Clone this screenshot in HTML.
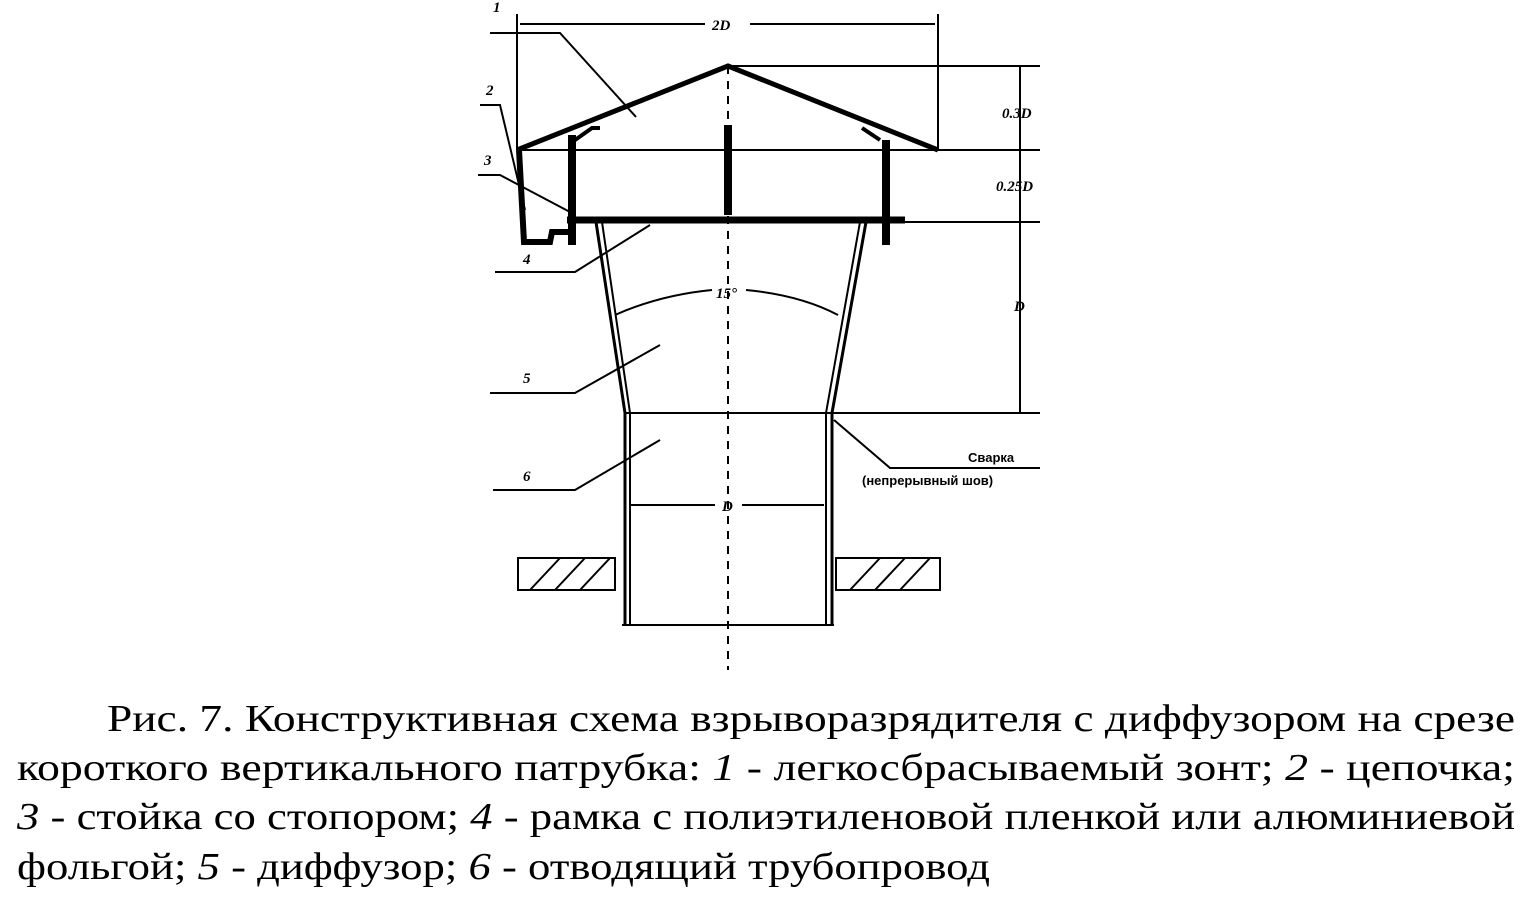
<!DOCTYPE html><html><head><meta charset="utf-8"><style>body{margin:0;background:#fff}svg{display:block}text{font-family:"Liberation Serif",serif}.s{font-family:"Liberation Sans",sans-serif}</style></head><body>
<svg width="1530" height="900" viewBox="0 0 1530 900" xmlns="http://www.w3.org/2000/svg">
<g stroke="#000" fill="none" stroke-width="2">
<line x1="517" y1="14" x2="517" y2="150"/><line x1="938" y1="14" x2="938" y2="150"/>
<line x1="520" y1="24" x2="705" y2="24"/><line x1="750" y1="24" x2="935" y2="24"/>
<line x1="728" y1="66" x2="1040" y2="66"/><line x1="517" y1="150" x2="1040" y2="150"/>
<line x1="880" y1="222" x2="1040" y2="222"/><line x1="625" y1="413" x2="1040" y2="413"/>
<line x1="1020" y1="66" x2="1020" y2="413"/>
<polyline points="490,33 560,33 636,117"/>
<polyline points="480,105 500,105 525,210"/>
<polyline points="478,175 500,175 570,212"/>
<polyline points="495,272 575,272 650,225"/>
<polyline points="490,393 575,393 660,345"/>
<polyline points="493,490 575,490 660,440"/>
<polyline points="834,420 890,468 1040,468"/>
<path d="M615,315 Q660,295 712,290 M746,290 Q800,295 838,315"/>
<line x1="630" y1="505" x2="715" y2="505"/><line x1="742" y1="505" x2="824" y2="505"/>
<line x1="728" y1="66" x2="728" y2="670" stroke-dasharray="8,7"/>
<polyline points="596,222 625,413 625,625" stroke-width="3"/><polyline points="602,222 630,413 630,625" stroke-width="2"/>
<polyline points="866,222 832,413 832,625" stroke-width="3"/><polyline points="860,222 826,413 826,625" stroke-width="2"/>
<line x1="622" y1="625" x2="834" y2="625"/>
<polyline points="517,150 728,66 938,150" stroke-width="5"/>
<line x1="567" y1="220" x2="905" y2="220" stroke-width="7"/>
<line x1="572" y1="135" x2="572" y2="245" stroke-width="8"/>
<line x1="728" y1="125" x2="728" y2="215" stroke-width="8"/>
<line x1="886" y1="140" x2="886" y2="245" stroke-width="8"/>
<polyline points="519,150 524,242 550,242 552,232 570,232" stroke-width="6"/>
<polyline points="575,140 592,128 600,128" stroke-width="4"/><polyline points="862,128 880,140" stroke-width="4"/>
<rect x="518" y="558" width="97" height="32"/><rect x="836" y="558" width="104" height="32"/>
<path d="M530,590 L560,558 M555,590 L585,558 M580,590 L610,558 M850,590 L880,558 M875,590 L905,558 M900,590 L930,558"/>
</g>
<g font-style="italic" font-size="15" font-weight="bold">
<text x="493" y="12">1</text><text x="486" y="95">2</text><text x="484" y="165">3</text><text x="523" y="264">4</text><text x="523" y="383">5</text><text x="523" y="481">6</text>
<text x="712" y="30">2D</text><text x="1002" y="118">0.3D</text><text x="996" y="191">0.25D</text><text x="1014" y="311">D</text><text x="722" y="511">D</text><text x="716" y="298">15°</text>
</g>
<g font-size="13" font-weight="bold"><text class="s" x="968" y="462">Сварка</text><text class="s" x="862" y="485">(непрерывный шов)</text></g>
<g font-size="38">
<text x="107" y="731" textLength="1408" lengthAdjust="spacingAndGlyphs">Рис. 7. Конструктивная схема взрыворазрядителя с диффузором на срезе</text>
<text x="17" y="780" textLength="1498" lengthAdjust="spacingAndGlyphs">короткого вертикального патрубка: <tspan font-style="italic">1</tspan> - легкосбрасываемый зонт; <tspan font-style="italic">2</tspan> - цепочка;</text>
<text x="17" y="829" textLength="1498" lengthAdjust="spacingAndGlyphs"><tspan font-style="italic">3</tspan> - стойка со стопором; <tspan font-style="italic">4</tspan> - рамка с полиэтиленовой пленкой или алюминиевой</text>
<text x="17" y="879" textLength="973" lengthAdjust="spacingAndGlyphs">фольгой; <tspan font-style="italic">5</tspan> - диффузор; <tspan font-style="italic">6</tspan> - отводящий трубопровод</text>
</g>
</svg></body></html>
